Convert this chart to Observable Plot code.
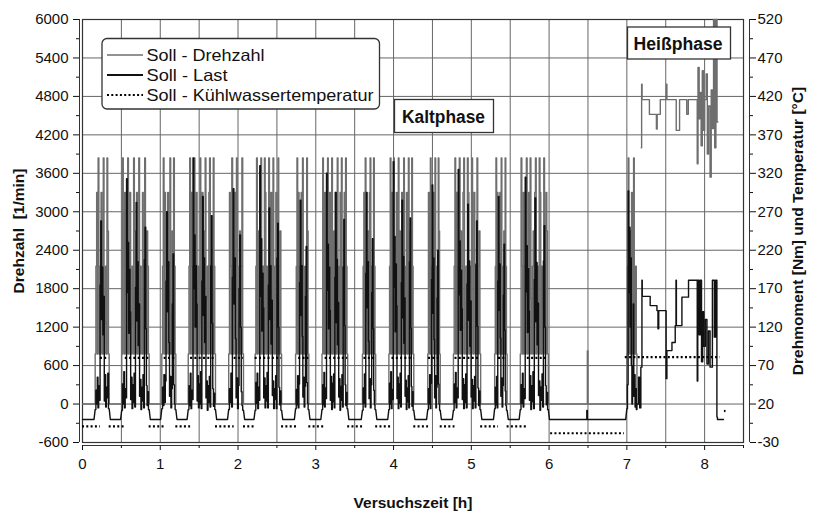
<!DOCTYPE html>
<html>
<head>
<meta charset="utf-8">
<script src="https://cdn.jsdelivr.net/npm/d3@7"></script>
<script src="https://cdn.jsdelivr.net/npm/@observablehq/plot@0.6"></script>
<style>
  body { margin: 0; background: #fff; }
  #chart { position: relative; width: 817px; height: 511px; font-family: "Liberation Sans", Arial, sans-serif; }
  #chart svg.overlay { position: absolute; left: 0; top: 0; pointer-events: none; }
</style>
</head>
<body>
<div id="chart"></div>
<script>
// Leerlaufdrehzahl [1/min]
const L = 780;

// Kaltphase: Zyklen (Beginn / Ende in h)
const zyklusStart = [0.163, 0.505, 1.02, 1.36, 1.88, 2.22, 2.74, 3.08, 3.60, 3.94, 4.44, 4.77, 5.30, 5.63];
const zyklusEnde  = [0.343, 0.857, 1.20, 1.71, 2.07, 2.56, 2.91, 3.41, 3.77, 4.26, 4.60, 5.12, 5.46, 5.99];

// Soll-Drehzahl je Zyklus [1/min], gleichmäßig über die Zyklusdauer verteilt
const drehzahlZyklen = [
  [L,2150,3300,L,3840,2150,L,1650,3300,L,2150,3840,L,1250,2150,L,3840,2700,L],
  [L,3840,2150,L,3300,1700,L,2150,3840,L,2150,3300,L,1250,2150,L,3840,2700,L,1650,3300,L,2150,3840,L,2150,1500,L,3300,2150,L,3840,2150,L,2700,2150,L],
  [L,2150,3840,L,3300,2150,L,1800,3300,L,2150,3840,L,1400,2700,L,3840,2150,L],
  [L,2150,3840,L,3300,2150,L,1650,3840,L,2150,3300,L,1900,2150,L,3840,1250,L,3300,2150,L,2700,3840,L,1650,2150,L,3300,3840,L,2150,1500,L,3840,2150,L],
  [L,3300,2150,L,3840,1700,L,2150,3300,L,3840,2150,L,1250,2700,L,2150,3840,L],
  [L,2150,3840,L,2700,2150,L,3300,3840,L,1650,2150,L,3840,3300,L,2150,1250,L,3840,2150,L,3300,1900,L,3840,2150,L,2150,3300,L,1500,3840,L,2150,2700,L],
  [L,2150,3840,L,3300,1650,L,2150,3300,L,3840,2150,L,1800,2150,L,3840,2700,L],
  [L,3840,2150,L,3300,2150,L,1700,3840,L,2150,3300,L,1250,3840,L,2150,2700,L,3300,1650,L,3840,2150,L,2150,3300,L,3840,1500,L,2150,3300,L,3840,2150,L],
  [L,2150,3300,L,3840,2150,L,1650,2700,L,3300,3840,L,2150,1250,L,3840,2150,L],
  [L,2150,3840,L,3300,2150,L,3840,1700,L,2150,3300,L,1900,3840,L,2700,2150,L,3300,1250,L,3840,2150,L,2150,3300,L,1650,3840,L,2150,2700,L,3840,2150,L],
  [L,3300,2150,L,3840,2150,L,1500,3300,L,2150,3840,L,1700,2150,L,3840,2700,L],
  [L,2150,3840,L,3300,1650,L,2150,3840,L,2700,2150,L,3300,3840,L,1250,2150,L,3840,3300,L,2150,1900,L,3840,2150,L,3300,2150,L,1500,3840,L,2150,2700,L],
  [L,2150,3840,L,3300,2150,L,1650,3300,L,3840,2150,L,1250,2700,L,3840,2150,L],
  [L,3840,2150,L,3300,2150,L,1700,3840,L,2150,3300,L,3840,1650,L,2150,2700,L,3300,3840,L,1250,2150,L,3840,3300,L,2150,1500,L,3840,2150,L,3300,2700,L]
];

// Soll-Last je Zyklus [Nm]
const lastZyklen = [
  [13,38,20,55,15,44,25,175,258,130,198,110,160,24,58,16,42,28,60,14],
  [12,46,20,62,15,40,28,313,165,230,112,195,140,26,55,14,45,22,60,16,172,282,128,205,96,150,30,52,13,42,24,58,15,208,250,118,44,18,36,13],
  [14,42,18,58,22,50,180,270,140,205,100,30,56,15,40,150,215,45,20,13],
  [13,44,18,60,14,38,26,340,170,240,120,200,150,24,57,15,46,20,62,14,180,290,135,210,100,160,28,50,12,44,22,56,16,200,265,125,40,17,34,13],
  [13,40,22,60,16,185,300,150,210,105,28,54,14,44,170,240,120,36,18,12],
  [12,48,21,60,14,42,25,330,160,235,115,190,145,28,54,15,44,24,61,15,175,275,130,200,98,155,31,50,14,40,26,57,14,210,255,120,42,19,37,12],
  [14,39,19,57,15,46,178,285,135,200,108,29,55,16,43,160,225,48,21,13],
  [13,45,19,61,16,41,27,320,168,228,118,198,142,25,56,13,47,23,59,15,185,295,126,208,97,152,29,53,12,43,25,58,16,198,260,122,45,18,35,14],
  [12,41,21,59,16,190,295,145,205,102,27,53,15,45,165,235,118,38,19,13],
  [13,47,20,62,14,39,26,335,172,238,114,202,148,27,55,14,46,21,60,16,178,285,132,212,99,158,30,51,13,41,23,57,15,205,262,119,43,17,36,12],
  [13,40,20,58,14,47,182,305,138,210,104,28,57,15,42,158,220,46,20,12],
  [12,46,22,61,15,41,28,325,162,232,116,194,144,26,53,14,45,22,59,15,176,280,129,206,95,154,29,52,14,44,24,56,15,202,258,121,41,18,37,13],
  [14,42,19,56,15,180,290,142,202,106,30,54,16,44,162,228,116,37,18,12],
  [13,45,21,60,16,40,27,315,166,226,113,196,141,25,57,13,44,23,62,14,182,288,127,204,97,151,31,50,12,42,25,59,16,206,252,120,44,19,35,13]
];

// Pause 6–7 h: Stufen [Zeit h, Wert]
const drehzahlRuhe = [[5.99, 0], [6.492, 830], [6.5, 0]];
const lastRuhe = [[6.005, 0], [6.485, 11.7], [6.492, 0]];

// Heißphase: Anfangszyklus
const heissStart = 7.0;
const heissEnde = 7.13;
const drehzahlHeissZyklus = [L,2150,3840,L,2700,1650,L,3300,2150,L,3840,1450,L,2150,L];
const lastHeissZyklus = [14,45,297,165,250,120,210,70,20,48,150,30,58,16,40,13];

// Heißphase: Stufen [Zeit h, Wert]
const drehzahlHeiss = [
  [7.185, 4000], [7.19, 4990], [7.196, 4750], [7.29, 4520], [7.38, 4290], [7.39, 4520], [7.43, 4750],
  [7.51, 4990], [7.515, 4750], [7.635, 4270], [7.678, 4750], [7.77, 4520], [7.79, 4750],
  [7.905, 3750], [7.915, 5250], [7.93, 4450], [7.945, 4860], [7.955, 4030], [7.97, 5200], [7.985, 4270],
  [8.0, 4750], [8.02, 5150], [8.035, 3900], [8.05, 4650], [8.07, 3540], [8.085, 4900], [8.1, 4300],
  [8.115, 6000], [8.13, 4000], [8.145, 6000], [8.16, 4400]
];
const drehzahlHeissBis = 8.17;
const lastHeiss = [
  [7.13, 20], [7.15, 55], [7.165, 15], [7.18, 68], [7.194, 181], [7.198, 160], [7.30, 148], [7.387, 141.5],
  [7.4, 118], [7.41, 141.5], [7.505, 53], [7.515, 89.5], [7.58, 100], [7.622, 122], [7.632, 181], [7.637, 122],
  [7.708, 159], [7.793, 181], [7.905, 50], [7.912, 181], [7.93, 110], [7.945, 181], [7.96, 75], [7.975, 140],
  [7.99, 95], [8.01, 130], [8.03, 72], [8.05, 115], [8.07, 68], [8.1, 181], [8.125, 107], [8.14, 181],
  [8.158, 3], [8.165, 0]
];
const lastHeissBis = 8.243;

// Soll-Kühlwassertemperatur [°C] als Abschnitte
const tempVon = [0, 0.23, 0.343, 0.55, 0.857, 1.05, 1.20, 1.39, 1.71, 1.95, 2.07, 2.22, 2.56, 2.78, 2.91, 3.12, 3.41, 3.62, 3.77, 3.98, 4.26, 4.45, 4.60, 4.79, 5.12, 5.35, 5.46, 5.72, 6.02, 6.98, 8.255];
const tempBis = [0.23, 0.343, 0.55, 0.857, 1.05, 1.20, 1.39, 1.71, 1.95, 2.07, 2.22, 2.56, 2.78, 2.91, 3.12, 3.41, 3.62, 3.77, 3.98, 4.26, 4.45, 4.60, 4.79, 5.12, 5.35, 5.46, 5.72, 5.99, 6.97, 8.2, 8.275];
const tempWert = [-9, 80, -9, 80, -9, 80, -9, 80, -9, 80, -9, 80, -9, 80, -9, 80, -9, 80, -9, 80, -9, 80, -9, 80, -9, 80, -9, 80, -18, 81, 11];

// Achsen
const xTicks = [0, 1, 2, 3, 4, 5, 6, 7, 8];
const yTicks = [-600, 0, 600, 1200, 1800, 2400, 3000, 3600, 4200, 4800, 5400, 6000];

// --- Aufbereitung ---
const rampe = 0.015;
// Werte gleichmäßig über [von, bis] als Treppe
function stufen(werte, von, bis, out) {
  const dt = (bis - von) / werte.length;
  werte.forEach((v, k) => out.push({t: von + k * dt, v}, {t: von + (k + 1) * dt, v}));
}
// [Zeit, Wert]-Paare als Treppe bis "ende"
function stufenPaare(paare, ende, out) {
  paare.forEach(([t, v], k) => {
    const t2 = k + 1 < paare.length ? paare[k + 1][0] : ende;
    out.push({t, v}, {t: t2, v});
  });
}

const drehzahl = [{t: 0, v: 0}];
zyklusStart.forEach((s, i) => {
  drehzahl.push({t: s, v: 0});
  stufen(drehzahlZyklen[i], s, zyklusEnde[i], drehzahl);
  drehzahl.push({t: zyklusEnde[i], v: 0});
});
stufenPaare(drehzahlRuhe, heissStart, drehzahl);
stufen(drehzahlHeissZyklus, heissStart, heissEnde, drehzahl);
drehzahl.push({t: heissEnde, v: 0}, {t: heissEnde, v: NaN});
stufenPaare(drehzahlHeiss, drehzahlHeissBis, drehzahl);

const last = [{t: 0, v: 0}];
zyklusStart.forEach((s, i) => {
  last.push({t: s - rampe, v: 0});
  stufen(lastZyklen[i], s, zyklusEnde[i], last);
  last.push({t: zyklusEnde[i] + rampe, v: 0});
});
stufenPaare(lastRuhe, heissStart - rampe, last);
stufen(lastHeissZyklus, heissStart, heissEnde, last);
stufenPaare(lastHeiss, lastHeissBis, last);

const temperatur = tempWert.map((v, i) => ({von: tempVon[i], bis: tempBis[i], v}));

// rechte Achse (Nm, °C) auf linke Achse (1/min)
const rechtsNachLinks = v => v * 12 - 240;
const linksNachRechts = d => String((d + 240) / 12);

const minorY = d3.range(-300, 6000, 600);
const minorX = d3.range(0.5, 8.6, 1);
const font = "'Liberation Sans', Arial, sans-serif";

const plot = Plot.plot({
  width: 817,
  height: 511,
  marginLeft: 82,
  marginRight: 74,
  marginTop: 19,
  marginBottom: 69,
  style: {fontFamily: font, fontSize: "15px", color: "#111", background: "#fff"},
  x: {domain: [0, 8.5], label: null},
  y: {domain: [-600, 6000], label: null},
  marks: [
    Plot.ruleX(d3.range(0.5, 8.5, 0.5), {stroke: "#666", strokeWidth: 1}),
    Plot.ruleY(d3.range(0, 6000, 600), {stroke: "#666", strokeWidth: 1}),
    Plot.frame({stroke: "#333", strokeWidth: 1.2}),
    Plot.line(drehzahl, {x: "t", y: "v", stroke: "#6e6e6e", strokeWidth: 1.4}),
    Plot.line(last, {x: "t", y: d => rechtsNachLinks(d.v), stroke: "#111", strokeWidth: 1.4}),
    Plot.ruleY(temperatur, {x1: "von", x2: "bis", y: d => rechtsNachLinks(d.v), stroke: "#000", strokeWidth: 2.2, strokeDasharray: "2 2.3"}),
    // Achslinien
    Plot.ruleY([-600], {dy: 3, stroke: "#333"}),
    Plot.ruleX([0], {dx: -3, stroke: "#333"}),
    Plot.ruleX([8.5], {dx: 6, stroke: "#333"}),
    Plot.axisX({ticks: xTicks, tickSize: 5, dy: 3, tickPadding: 8, label: null, fontSize: 15}),
    Plot.axisX({ticks: minorX, tickSize: 3, dy: 3, tickFormat: () => "", label: null}),
    Plot.axisY({anchor: "left", ticks: yTicks, tickSize: 6, dx: -3, tickPadding: 5, tickFormat: d => String(d), label: null, fontSize: 15}),
    Plot.axisY({anchor: "left", ticks: minorY, tickSize: 3, dx: -3, tickFormat: () => "", label: null}),
    Plot.axisY({anchor: "right", ticks: yTicks, tickSize: 6, dx: 6, tickPadding: 2, tickFormat: linksNachRechts, label: null, fontSize: 15}),
    Plot.axisY({anchor: "right", ticks: minorY, tickSize: 3, dx: 6, tickFormat: () => "", label: null}),
    // Achsbeschriftungen
    Plot.text(["Drehzahl\u00a0\u00a0[1/min]"], {text: d => d, frameAnchor: "left", dx: -63, rotate: -90, textAnchor: "middle", lineAnchor: "middle", fontWeight: "bold", fontSize: 15.5}),
    Plot.text(["Drehmoment [Nm] und Temperatur [°C]"], {text: d => d, frameAnchor: "right", dx: 55, rotate: -90, textAnchor: "middle", lineAnchor: "middle", fontWeight: "bold", fontSize: 15.5}),
    Plot.text(["Versuchszeit [h]"], {text: d => d, frameAnchor: "bottom", dy: 61, textAnchor: "middle", lineAnchor: "middle", fontWeight: "bold", fontSize: 15.5})
  ]
});

const chart = document.getElementById("chart");
chart.appendChild(plot);

// Legende und Phasenbeschriftungen
const ns = "http://www.w3.org/2000/svg";
const ov = d3.select(chart).append("svg")
  .attr("class", "overlay").attr("xmlns", ns)
  .attr("width", 817).attr("height", 511)
  .style("font-family", font);

ov.append("rect").attr("x", 102).attr("y", 38.5).attr("width", 277.5).attr("height", 70.5).attr("rx", 5)
  .attr("fill", "#fff").attr("stroke", "#333").attr("stroke-width", 1.3);

const legende = [
  {name: "Soll - Drehzahl", stroke: "#6e6e6e", w: 1.5, dash: null, y: 55, len: 118},
  {name: "Soll - Last", stroke: "#111", w: 2, dash: null, y: 75, len: 81},
  {name: "Soll - Kühlwassertemperatur", stroke: "#000", w: 2.2, dash: "2 2.3", y: 95, len: 227}
];
legende.forEach(e => {
  ov.append("line").attr("x1", 107).attr("x2", 143).attr("y1", e.y).attr("y2", e.y)
    .attr("stroke", e.stroke).attr("stroke-width", e.w).attr("stroke-dasharray", e.dash);
  ov.append("text").attr("x", 146.5).attr("y", e.y + 5.5).attr("font-size", 16.5)
    .attr("textLength", e.len).attr("lengthAdjust", "spacingAndGlyphs").attr("fill", "#111").text(e.name);
});

const phasen = [
  {name: "Kaltphase", x: 394.5, y: 99.5, w: 99, h: 33, cx: 443.5, by: 123, len: 83},
  {name: "Heißphase", x: 627.5, y: 27, w: 103, h: 32, cx: 678, by: 50, len: 89}
];
phasen.forEach(p => {
  ov.append("rect").attr("x", p.x).attr("y", p.y).attr("width", p.w).attr("height", p.h)
    .attr("fill", "#fff").attr("stroke", "#333").attr("stroke-width", 1.3);
  ov.append("text").attr("x", p.cx).attr("y", p.by).attr("text-anchor", "middle")
    .attr("font-size", 17.5).attr("font-weight", "bold").attr("fill", "#111")
    .attr("textLength", p.len).attr("lengthAdjust", "spacingAndGlyphs").text(p.name);
});
</script>
</body>
</html>
